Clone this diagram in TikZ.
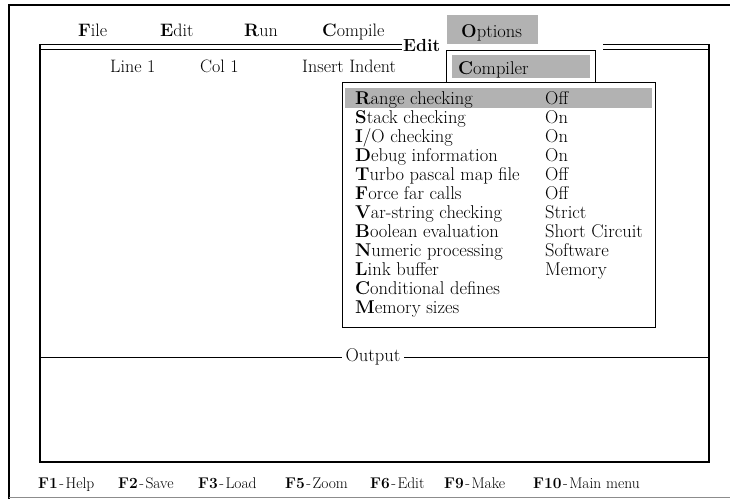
\documentclass[tikz,border=0pt]{standalone}
\usepackage{fontspec}
\begin{document}
\begin{tikzpicture}[x=1pt,y=-1pt,
  txt/.style={anchor=base west,inner sep=0pt,font=\fontsize{18}{20}\selectfont},
  big/.style={anchor=base west,inner sep=0pt,font=\fontsize{18.5}{21}\selectfont},
  fkey/.style={anchor=base west,inner sep=0pt,font=\fontsize{15.5}{18}\selectfont},
  frame/.style={line width=1.3pt},
  thin/.style={line width=0.8pt},
  shade/.style={fill=black!30,draw=none}]
\useasboundingbox (0,0) rectangle (730,499);

% outer screen border
\draw[line width=2.2pt] (9,499) -- (9,5) -- (730,5);
\draw[black!45,line width=0.7pt] (9,497) -- (730,497);

% menu bar
\fill[shade] (447,15) rectangle (538,44);
\node[txt] (mfile) at (78,36) {\textbf{F}ile};
\node[txt] (medit) at (160,36) {\textbf{E}dit};
\node[txt] (mrun) at (244,36) {\textbf{R}un};
\node[txt] (mcomp) at (322,36) {\textbf{C}ompile};
\node[big] (mopt) at (461,37) {\textbf{O}ptions};

% edit window: double top rule broken by the title and the menu
\draw[thin] (40,44) -- (402,44) (40,49) -- (402,49);
\draw[thin] (603,44) -- (709,44) (603,49) -- (709,49);
\draw[frame] (40,44) -- (40,462) -- (709,462) -- (709,44);
\node[txt,font=\fontsize{17.5}{20}\selectfont\bfseries] (wtitle) at (403,51) {Edit};

% status line
\node[txt] (sline) at (110,72) {Line 1};
\node[txt] (scol) at (200,72) {Col 1};
\node[txt] (smode) at (302,72) {Insert Indent};

% Compiler submenu header
\draw[thin,fill=white] (446,50) rectangle (595,82);
\fill[shade] (452,55) rectangle (590,78);
\node[big] (hcomp) at (458,74) {\textbf{C}ompiler};

% drop-down list
\draw[thin,fill=white] (342,82) rectangle (655,327);
\fill[shade] (345,88) rectangle (652,108);
\foreach \k/\lab/\val [count=\i from 0] in {
  r1/{\textbf{R}ange checking}/Off,
  r2/{\textbf{S}tack checking}/On,
  r3/{\textbf{I}/O checking}/On,
  r4/{\textbf{D}ebug information}/On,
  r5/{\textbf{T}urbo pascal map file}/Off,
  r6/{\textbf{F}orce far calls}/Off,
  r7/{\textbf{V}ar-string checking}/Strict,
  r8/{\textbf{B}oolean evaluation}/Short Circuit,
  r9/{\textbf{N}umeric processing}/Software,
  r10/{\textbf{L}ink buffer}/Memory,
  r11/{\textbf{C}onditional defines}/,
  r12/{\textbf{M}emory sizes}/}{
  \node[big] (\k) at (355,104+19*\i) {\lab};
  \node[big] (\k v) at (545,104+19*\i) {\val};
}

% output pane separator
\draw[thin] (40,357) -- (709,357);
\node[big,fill=white,inner xsep=4pt,inner ysep=0pt,anchor=center] (outlbl) at (373,357) {Output\vphantom{p}};

% function key line
\node[fkey] (f1) at (38,488) {\textbf{F1}\kern1.5pt-\kern1.5pt Help};
\node[fkey] (f2) at (118,488) {\textbf{F2}\kern1.5pt-\kern1.5pt Save};
\node[fkey] (f3) at (198,488) {\textbf{F3}\kern1.5pt-\kern1.5pt Load};
\node[fkey] (f5) at (285,488) {\textbf{F5}\kern1.5pt-\kern1.5pt Zoom};
\node[fkey] (f6) at (370,488) {\textbf{F6}\kern1.5pt-\kern1.5pt Edit};
\node[fkey] (f9) at (444,488) {\textbf{F9}\kern1.5pt-\kern1.5pt Make};
\node[fkey] (f10) at (533,488) {\textbf{F10}\kern1.5pt-\kern1.5pt Main menu};
\end{tikzpicture}
\end{document}
